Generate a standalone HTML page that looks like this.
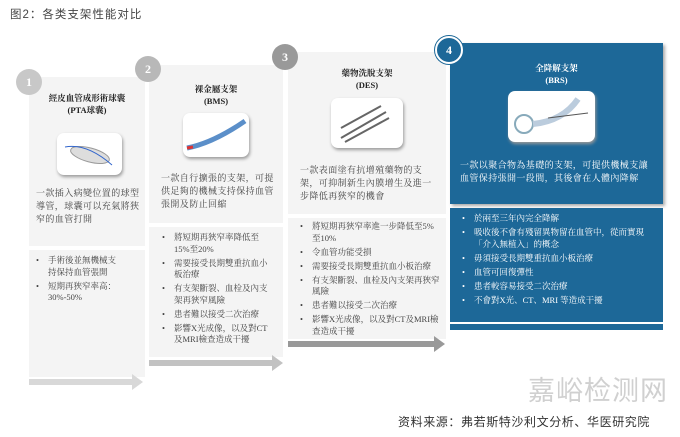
<!DOCTYPE html>
<html><head><meta charset="utf-8"><style>
*{margin:0;padding:0;box-sizing:border-box}
body{width:680px;height:437px;background:#fff;position:relative;overflow:hidden;font-family:"Liberation Serif","Noto Serif CJK SC",serif;color:#333}
.a{position:absolute}
.g{background:#f4f4f4}
.t{font-size:8.5px;font-weight:bold;text-align:center;line-height:12px;color:#222}
.d{font-size:9px;line-height:13px;color:#444;letter-spacing:.4px}
ul{list-style:none}
li{font-size:8.5px;line-height:11.5px;color:#444;padding-left:14px;position:relative;margin-bottom:2.5px}
li:before{content:"•";position:absolute;left:2px}
.w li{color:#fff}
.c{border-radius:50%;color:#fff;font-weight:bold;font-size:12px;text-align:center}
.img{background:#fff;border-radius:7px;box-shadow:1px 2px 3px #999}
.ar{position:absolute;height:6px}
.ar:after{content:"";position:absolute;right:-10px;top:-5px;border-left:11px solid;border-left-color:inherit;border-top:8px solid transparent;border-bottom:8px solid transparent}
</style></head><body>
<div class="a" style="left:10px;top:6px;font-family:'Liberation Sans','Noto Sans CJK SC',sans-serif;font-size:11.5px;color:#444;letter-spacing:1px">图2：各类支架性能对比</div>

<!-- card1 -->
<div class="a g" style="left:29px;top:77px;width:116px;height:169px"></div>
<div class="a g" style="left:29px;top:250px;width:116px;height:127px"></div>
<div class="a c" style="left:16px;top:69px;width:26px;height:26px;line-height:26px;background:#c8c8c8">1</div>
<div class="a t" style="left:29px;top:92px;width:116px">經皮血管成形術球囊<br>(PTA球囊)</div>
<div class="a img" style="left:57px;top:133px;width:65px;height:42px"><svg width="65" height="42"><ellipse cx="33" cy="22" rx="20" ry="7" fill="#ddd" stroke="#999" transform="rotate(15 33 22)"/><path d="M8 14 Q30 10 55 32" stroke="#36c" fill="none"/></svg></div>
<div class="a d" style="left:36px;top:187px;width:104px">一款插入病變位置的球型導管，球囊可以充氣將狹窄的血管打開</div>
<ul class="a" style="left:34px;top:255px;width:84px"><li>手術後並無機械支持保持血管張開</li><li>短期再狹窄率高：30%-50%</li></ul>
<div class="ar" style="left:29px;top:379px;width:104px;background:#d8d8d8;border-color:#d8d8d8"></div>

<!-- card2 -->
<div class="a g" style="left:149px;top:65px;width:134px;height:158px"></div>
<div class="a g" style="left:149px;top:227px;width:134px;height:130px"></div>
<div class="a c" style="left:135px;top:56px;width:26px;height:26px;line-height:26px;background:#b8b8b8">2</div>
<div class="a t" style="left:149px;top:83px;width:134px">裸金屬支架<br>(BMS)</div>
<div class="a img" style="left:183px;top:113px;width:66px;height:44px"><svg width="66" height="44"><path d="M4 35 Q30 30 62 8" stroke="#5b8fc9" stroke-width="5" fill="none"/><path d="M4 35 l6 -1" stroke="#d33" stroke-width="3"/></svg></div>
<div class="a d" style="left:161px;top:172px;width:114px">一款自行擴張的支架，可提供足夠的機械支持保持血管張開及防止回縮</div>
<ul class="a" style="left:160px;top:232px;width:108px"><li>將短期再狹窄率降低至15%至20%</li><li>需要接受長期雙重抗血小板治療</li><li>有支架斷裂、血栓及內支架再狹窄風險</li><li>患者難以接受二次治療</li><li>影響X光成像，以及對CT及MRI檢查造成干擾</li></ul>
<div class="ar" style="left:149px;top:360px;width:124px;background:#c2c2c2;border-color:#c2c2c2"></div>

<!-- card3 -->
<div class="a g" style="left:288px;top:52px;width:158px;height:162px"></div>
<div class="a g" style="left:288px;top:218px;width:158px;height:121px"></div>
<div class="a c" style="left:272px;top:44px;width:26px;height:26px;line-height:26px;background:#999">3</div>
<div class="a t" style="left:288px;top:67px;width:158px">藥物洗脫支架<br>(DES)</div>
<div class="a img" style="left:331px;top:98px;width:72px;height:50px"><svg width="72" height="50"><path d="M10 40 L55 14 M10 30 L50 8 M14 44 L58 20" stroke="#666" stroke-width="2" fill="none"/></svg></div>
<div class="a d" style="left:300px;top:164px;width:140px">一款表面塗有抗增殖藥物的支架，可抑制新生內膜增生及進一步降低再狹窄的機會</div>
<ul class="a" style="left:298px;top:221px;width:142px"><li>將短期再狹窄率進一步降低至5%至10%</li><li>令血管功能受損</li><li>需要接受長期雙重抗血小板治療</li><li>有支架斷裂、血栓及內支架再狹窄風險</li><li>患者難以接受二次治療</li><li>影響X光成像，以及對CT及MRI檢查造成干擾</li></ul>
<div class="ar" style="left:288px;top:341px;width:147px;background:#999;border-color:#999"></div>

<!-- card4 -->
<div class="a" style="left:450px;top:43px;width:213px;height:161px;background:#1d6898;box-shadow:2px 2px 3px #aaa"></div>
<div class="a" style="left:450px;top:208px;width:213px;height:114px;background:#1d6898"></div>
<div class="a" style="left:450px;top:324px;width:213px;height:6px;background:#1d6898"></div>
<div class="a c" style="left:435px;top:36px;width:28px;height:28px;line-height:24px;background:#1d6898;border:2px solid #fff;box-shadow:0 0 0 1px #1d6898">4</div>
<div class="a t" style="left:450px;top:62px;width:213px;color:#fff">全降解支架<br>(BRS)</div>
<div class="a img" style="left:508px;top:91px;width:87px;height:51px"><svg width="87" height="51"><circle cx="16" cy="33" r="9" stroke="#8ab" stroke-width="2" fill="none"/><path d="M25 33 Q55 30 70 8" stroke="#bcd" stroke-width="6" fill="none"/><path d="M40 27 L80 22" stroke="#555"/></svg></div>
<div class="a d" style="left:460px;top:159px;width:196px;color:#fff">一款以聚合物為基礎的支架，可提供機械支讓血管保持張開一段間，其後會在人體內降解</div>
<ul class="a w" style="left:460px;top:213px;width:184px"><li>於兩至三年內完全降解</li><li>吸收後不會有殘留異物留在血管中，從而實現「介入無植入」的概念</li><li>毋須接受長期雙重抗血小板治療</li><li>血管可回復彈性</li><li>患者較容易接受二次治療</li><li>不會對X光、CT、MRI 等造成干擾</li></ul>

<div class="a" style="left:528px;top:376px;font-family:'Liberation Sans','Noto Sans CJK SC',sans-serif;font-size:27px;color:#d0d0d0;letter-spacing:1px;line-height:30px">嘉峪检测网</div>
<div class="a" style="left:398px;top:413px;font-family:'Liberation Sans','Noto Sans CJK SC',sans-serif;font-size:12px;color:#333;letter-spacing:.6px">资料来源：弗若斯特沙利文分析、华医研究院</div>
</body></html>
